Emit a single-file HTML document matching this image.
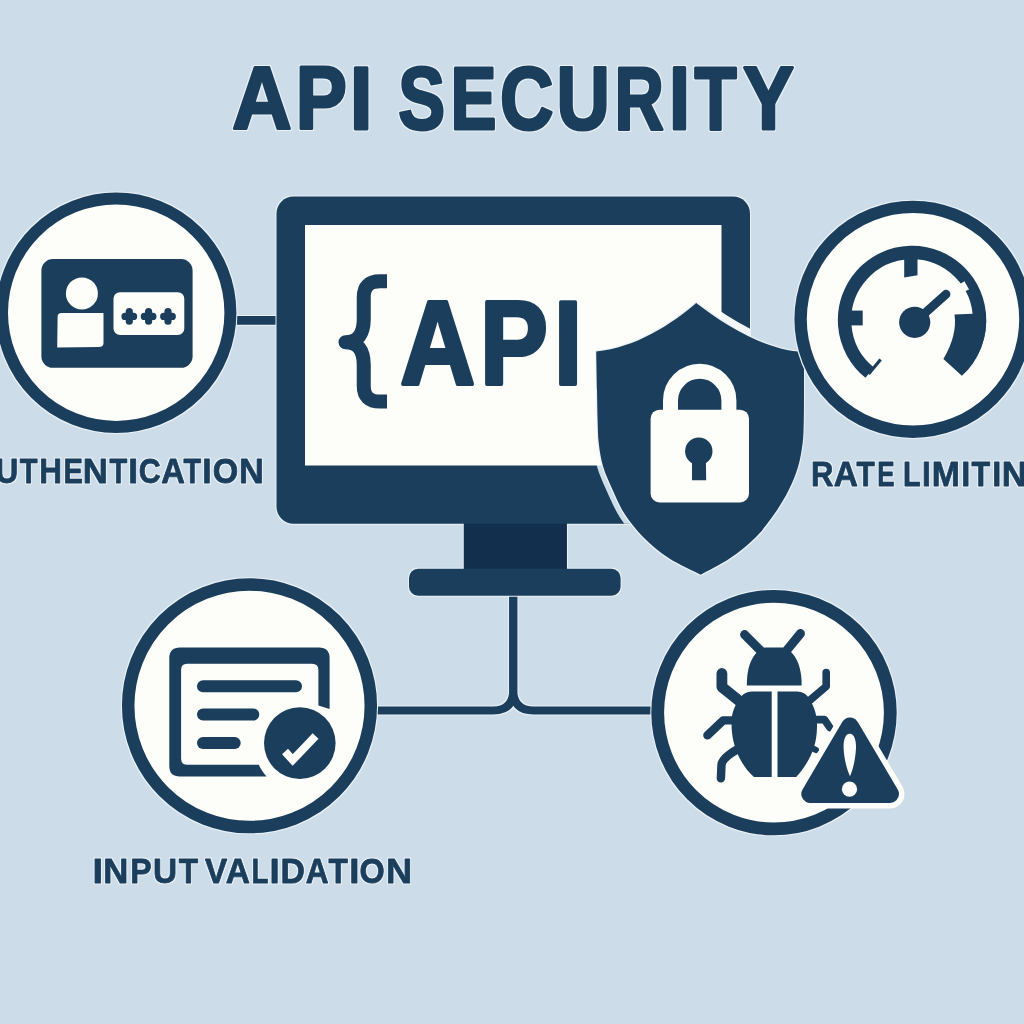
<!DOCTYPE html>
<html>
<head>
<meta charset="utf-8">
<title>API Security</title>
<style>
  html, body { margin: 0; padding: 0; background: #ccdce8; }
  body { width: 1024px; height: 1024px; overflow: hidden; font-family: "Liberation Sans", sans-serif; }
  svg { display: block; }
  text { font-family: "Liberation Sans", sans-serif; font-weight: bold; fill: #1a3e5c; }
</style>
</head>
<body>
<svg width="1024" height="1024" viewBox="0 0 1024 1024">
  <defs>
    <filter id="halo" x="-5%" y="-5%" width="110%" height="110%" color-interpolation-filters="sRGB"><feMorphology in="SourceAlpha" operator="dilate" radius="1.2" result="d"/><feGaussianBlur in="d" stdDeviation="0.45" result="b"/><feFlood flood-color="#eaf1f7"/><feComposite in2="b" operator="in" result="h"/><feMerge><feMergeNode in="h"/><feMergeNode in="SourceGraphic"/></feMerge></filter>
    <clipPath id="monClip"><rect x="276.5" y="196.5" width="473.5" height="327.25"/></clipPath></defs>
  <rect x="0" y="0" width="1024" height="1024" fill="#ccdce8"/>

  <!-- TITLE -->
  <g id="title" filter="url(#halo)">
    <text transform="translate(232.15,128.70) scale(0.9311,1)" font-size="88.37" stroke="#1a3e5c" stroke-width="3.0" stroke-linejoin="round">A</text>
    <text transform="translate(295.77,128.70) scale(0.8677,1)" font-size="88.37" stroke="#1a3e5c" stroke-width="3.0" stroke-linejoin="round">P</text>
    <text transform="translate(349.71,128.70) scale(0.9282,1)" font-size="88.37" stroke="#1a3e5c" stroke-width="3.0" stroke-linejoin="round">I</text>
    <text transform="translate(398.37,128.70) scale(0.7954,1)" font-size="88.37" stroke="#1a3e5c" stroke-width="3.0" stroke-linejoin="round">S</text>
    <text transform="translate(450.56,128.70) scale(0.7798,1)" font-size="88.37" stroke="#1a3e5c" stroke-width="3.0" stroke-linejoin="round">E</text>
    <text transform="translate(500.02,128.70) scale(0.8383,1)" font-size="88.37" stroke="#1a3e5c" stroke-width="3.0" stroke-linejoin="round">C</text>
    <text transform="translate(556.42,128.70) scale(0.8357,1)" font-size="88.37" stroke="#1a3e5c" stroke-width="3.0" stroke-linejoin="round">U</text>
    <text transform="translate(614.59,128.70) scale(0.7733,1)" font-size="88.37" stroke="#1a3e5c" stroke-width="3.0" stroke-linejoin="round">R</text>
    <text transform="translate(668.98,128.70) scale(0.8551,1)" font-size="88.37" stroke="#1a3e5c" stroke-width="3.0" stroke-linejoin="round">I</text>
    <text transform="translate(694.40,128.70) scale(0.7812,1)" font-size="88.37" stroke="#1a3e5c" stroke-width="3.0" stroke-linejoin="round">T</text>
    <text transform="translate(742.99,128.70) scale(0.8643,1)" font-size="88.37" stroke="#1a3e5c" stroke-width="3.0" stroke-linejoin="round">Y</text>
  </g>

  <!-- CONNECTORS -->
  <g fill="none" stroke="#1a3e5c" stroke-width="8" filter="url(#halo)">
    <path d="M 230 320.4 H 282" stroke-width="8.6"/>
    <path d="M 370 710.5 H 493 Q 513.25 710.5 513.25 690 V 590"/>
    <path d="M 660 710.5 H 533.5 Q 513.25 710.5 513.25 690 V 590"/>
  </g>

  <!-- MONITOR -->
  <g id="monitor" filter="url(#halo)">
    <rect x="463.75" y="520" width="103.2" height="50" fill="#12304d"/>
    <rect x="409" y="568.75" width="211.6" height="26.9" rx="9" fill="#1a3e5c"/>
    <rect x="276.5" y="196.5" width="473.5" height="327.25" rx="17" fill="#1a3e5c"/>
    <!-- shield halo over frame -->
    <path d="M 696.2 303 C 672 324 635 348 596.2 351.4 C 596.3 357.8 596.8 378.6 597.0 390.0 C 597.2 401.4 597.3 411.1 597.6 420.0 C 597.9 428.9 597.8 435.6 598.8 443.4 C 599.7 451.1 600.8 458.7 603.1 466.5 C 605.4 474.3 609.2 482.4 612.8 490.3 C 616.4 498.2 619.4 505.9 624.5 513.8 C 629.6 521.6 635.9 529.8 643.3 537.2 C 650.7 544.6 659.4 552.0 669.0 558.3 C 678.6 564.5 695.4 572.0 700.7 574.7 C 705.6 572.0 720.8 564.5 730.0 558.3 C 739.2 552.0 748.4 544.6 755.8 537.2 C 763.2 529.8 769.0 521.6 774.5 513.8 C 780.0 505.9 784.7 498.1 788.6 490.3 C 792.5 482.5 795.7 474.7 798.0 466.9 C 800.3 459.1 801.6 451.2 802.6 443.4 C 803.6 435.6 803.6 428.9 803.8 420.0 C 804.0 411.1 804.0 401.3 804.0 390.0 C 804.0 378.7 804.0 358.3 804.0 352.0 C 766 351 724 324.5 696.2 303 Z" fill="none" stroke="#cddde9" stroke-width="11.6" stroke-linejoin="round" clip-path="url(#monClip)"/>
    <path d="M 696.2 303 C 724 324.5 766 351 804 352" fill="none" stroke="#f3f6f6" stroke-width="15" stroke-linejoin="round" clip-path="url(#monClip)"/>
    <rect x="305" y="225" width="416.5" height="240.5" fill="#fdfdf9"/>
  </g>

  <!-- {API -->
  <g id="api">
    <text transform="translate(400.17,383.50) scale(0.8745,1)" font-size="118.46" stroke="#1a3e5c" stroke-width="4.0" stroke-linejoin="round">A</text>
    <text transform="translate(479.91,383.50) scale(0.8587,1)" font-size="118.46" stroke="#1a3e5c" stroke-width="4.0" stroke-linejoin="round">P</text>
    <text transform="translate(553.94,383.50) scale(0.8546,1)" font-size="118.46" stroke="#1a3e5c" stroke-width="4.0" stroke-linejoin="round">I</text>
  </g>
  <path d="M 387 281.2 H 380 Q 363.75 281.2 363.75 297 V 319 Q 363.75 342 345.5 342.2 Q 363.75 342 363.75 365 V 386 Q 363.75 401.6 380 401.6 H 387" fill="none" stroke="#1a3e5c" stroke-width="14" stroke-linejoin="round"/>

  <!-- SHIELD -->
  <path filter="url(#halo)" d="M 696.2 303 C 672 324 635 348 596.2 351.4 C 596.3 357.8 596.8 378.6 597.0 390.0 C 597.2 401.4 597.3 411.1 597.6 420.0 C 597.9 428.9 597.8 435.6 598.8 443.4 C 599.7 451.1 600.8 458.7 603.1 466.5 C 605.4 474.3 609.2 482.4 612.8 490.3 C 616.4 498.2 619.4 505.9 624.5 513.8 C 629.6 521.6 635.9 529.8 643.3 537.2 C 650.7 544.6 659.4 552.0 669.0 558.3 C 678.6 564.5 695.4 572.0 700.7 574.7 C 705.6 572.0 720.8 564.5 730.0 558.3 C 739.2 552.0 748.4 544.6 755.8 537.2 C 763.2 529.8 769.0 521.6 774.5 513.8 C 780.0 505.9 784.7 498.1 788.6 490.3 C 792.5 482.5 795.7 474.7 798.0 466.9 C 800.3 459.1 801.6 451.2 802.6 443.4 C 803.6 435.6 803.6 428.9 803.8 420.0 C 804.0 411.1 804.0 401.3 804.0 390.0 C 804.0 378.7 804.0 358.3 804.0 352.0 C 766 351 724 324.5 696.2 303 Z" fill="#1a3e5c"/>
  <!-- lock -->
  <g id="lock">
    <path d="M 670.5 415 V 400.5 A 29.2 29.2 0 0 1 728.9 400.5 V 415" fill="none" stroke="#fdfdf9" stroke-width="15"/>
    <rect x="650.6" y="409.7" width="98.4" height="92.8" rx="9" fill="#fdfdf9"/>
    <circle cx="698.8" cy="451.2" r="13.7" fill="#1a3e5c"/>
    <path d="M 692 455 L 692 480.2 H 706.2 L 705.8 455 Z" fill="#1a3e5c"/>
  </g>

  <!-- AUTH CIRCLE -->
  <circle cx="116.2" cy="312.7" r="114.2" fill="#fdfdf9" stroke="#1a3e5c" stroke-width="12" filter="url(#halo)"/>
  <g id="auth">
    <rect x="41.4" y="259.1" width="151.2" height="108.7" rx="11.5" fill="#1a3e5c"/>
    <circle cx="81.9" cy="293.4" r="16" fill="#fdfdf9"/>
    <path d="M 61.5 312.9 H 103.5 V 343 Q 103.5 347 99 347 L 57.2 347.4 L 57.6 317 Q 57.6 312.9 61.5 312.9 Z" fill="#fdfdf9"/>
    <rect x="113.5" y="292.2" width="70.8" height="42.7" rx="6.5" fill="#fdfdf9"/>
    <g stroke="#1a3e5c" stroke-width="7.2" stroke-linecap="round">
      <path d="M 125 316.4 H 133.6 M 129.3 311.7 V 321.2"/>
      <path d="M 144.3 316.4 H 152.9 M 148.6 311.7 V 321.2"/>
      <path d="M 163.7 316.4 H 172.3 M 168 311.7 V 321.2"/>
    </g>
  </g>

  <!-- RATE CIRCLE -->
  <circle cx="913" cy="319.3" r="112.4" fill="#fdfdf9" stroke="#1a3e5c" stroke-width="12.4" filter="url(#halo)"/>
  <g id="gauge">
    <!-- arc: centre 912,320 r=67.5 from 128.8deg to 48deg clockwise -->
    <path d="M 869.7 372.6 A 67.5 67.5 0 1 1 957.2 370.2" fill="none" stroke="#1a3e5c" stroke-width="13.4"/>
    <!-- end tick bottom-left -->
    <path d="M 868.6 374 L 880.6 359.6" fill="none" stroke="#1a3e5c" stroke-width="3.2"/>
    <!-- thick section right -->
    <path d="M 954.5 314.5 L 985.7 313.3 A 74 74 0 0 1 961.9 375.8 L 943.4 359 Q 957.5 335 954.5 314.5 Z" fill="#1a3e5c"/>
    <!-- ticks -->
    <path d="M 904.2 258 H 917.5 V 275.3 L 904.2 277.5 Z" fill="#1a3e5c"/>
    <rect x="848" y="310.6" width="14.7" height="14.8" fill="#1a3e5c"/>
    <path d="M 958.5 285 L 964.5 281.2 L 969 289.5 L 963.5 292 Z" fill="#fdfdf9"/>
    <!-- needle -->
    <path d="M 914.7 322.3 L 946 294.2" stroke="#1a3e5c" stroke-width="8.8" stroke-linecap="round"/>
    <circle cx="914.7" cy="322.3" r="15.6" fill="#1a3e5c"/>
  </g>

  <!-- INPUT CIRCLE -->
  <circle cx="249.5" cy="705.8" r="121.3" fill="#fdfdf9" stroke="#1a3e5c" stroke-width="12.5" filter="url(#halo)"/>
  <g id="form">
    <path d="M 180 647.4 H 319 Q 329.6 647.4 329.6 658 V 709 L 318.4 705.5 V 670 Q 318.4 663.8 312 663.8 H 187 Q 181.1 663.8 181.1 670 V 759 Q 181.1 764.7 187 764.7 H 258.8 Q 261 770 266.5 776.5 H 180 Q 169.3 776.5 169.3 766 V 658 Q 169.3 647.4 180 647.4 Z" fill="#1a3e5c"/>
    <g stroke="#1a3e5c" stroke-width="12" stroke-linecap="round">
      <path d="M 203 686.2 H 296"/>
      <path d="M 203 714.5 H 253.3"/>
      <path d="M 203 743 H 234.7"/>
    </g>
    <!-- check badge -->
        <circle cx="299.8" cy="743.1" r="35.8" fill="#1a3e5c"/>
    <path d="M 285 751.5 L 292.7 760 L 315.6 736" fill="none" stroke="#fdfdf9" stroke-width="8"/>
  </g>

  <!-- BUG CIRCLE -->
  <circle cx="774" cy="712.6" r="116.3" fill="#fdfdf9" stroke="#1a3e5c" stroke-width="12.8" filter="url(#halo)"/>
  <g id="bug">
    <!-- antennae -->
    <g fill="none" stroke="#1a3e5c" stroke-linecap="round" stroke-linejoin="round">
      <path d="M 744.6 634.6 L 761 651" stroke-width="9"/>
      <path d="M 800.4 633.6 L 787 650" stroke-width="9"/>
      <!-- left legs -->
      <path d="M 721.9 673.5 V 687 L 740 701.5" stroke-width="10.8"/>
      <path d="M 735 720.4 H 723.2 L 707.4 735.4" stroke-width="8.4"/>
      <path d="M 738 749 Q 722 758 721.5 765 L 720.9 778.3" stroke-width="8.4"/>
      <!-- right legs -->
      <path d="M 809 701 L 826.2 686.4 V 672.5" stroke-width="7.6"/>
      <path d="M 814 719.6 H 824.5 L 829.8 727.5" stroke-width="7.6"/>
      <path d="M 812 748 L 816 750" stroke-width="6"/>
    </g>
    <!-- head -->
    <path d="M 746.9 685.6 C 746.5 668 752 651 765 647.6 H 783 C 796 651 802 668 801.6 685.6 Z" fill="#1a3e5c"/>
    <!-- body -->
    <path d="M 771.7 691.4 H 752 Q 744 691.6 740 698 C 733 708 731.3 716 731.5 723 C 731.5 736 734 746 739 757 C 743 765 748 772 754 776.9 H 771.7 Z" fill="#1a3e5c"/>
    <path d="M 777.5 691.4 H 797 Q 805 691.6 809 698 C 815 708 817.2 716 817 726 C 817 737 815 747 810 757 C 806 765 801 772 796.2 776.9 H 777.5 Z" fill="#1a3e5c"/>
    <!-- warning triangle -->
    <path d="M 850 726.5 L 810.3 794 H 890 Z" fill="#fdfdf9" stroke="#fdfdf9" stroke-width="29" stroke-linejoin="round"/>
    <path d="M 850 726.5 L 810.3 794 H 890 Z" fill="#1a3e5c" stroke="#1a3e5c" stroke-width="18" stroke-linejoin="round"/>
    <path d="M 849.8 733.7 C 854.5 733.7 856.3 741 856 748 C 855.5 760 852.5 771 850 776.3 C 847.5 771 844 760 843.6 748 C 843.3 741 845 733.7 849.8 733.7 Z" fill="#fdfdf9"/>
    <circle cx="849.5" cy="789.2" r="7.6" fill="#fdfdf9"/>
  </g>

  <!-- LABELS -->
  <g id="labels" filter="url(#halo)">
    <text transform="translate(-4.54,483.30) scale(0.9014,1)" font-size="35.03" stroke="#1a3e5c" stroke-width="0.8" stroke-linejoin="round">U</text>
    <text transform="translate(19.81,483.30) scale(0.8307,1)" font-size="35.03" stroke="#1a3e5c" stroke-width="0.8" stroke-linejoin="round">T</text>
    <text transform="translate(39.26,483.30) scale(0.8975,1)" font-size="35.03" stroke="#1a3e5c" stroke-width="0.8" stroke-linejoin="round">H</text>
    <text transform="translate(63.38,483.30) scale(0.8312,1)" font-size="35.03" stroke="#1a3e5c" stroke-width="0.8" stroke-linejoin="round">E</text>
    <text transform="translate(82.87,483.30) scale(0.9909,1)" font-size="35.03" stroke="#1a3e5c" stroke-width="0.8" stroke-linejoin="round">N</text>
    <text transform="translate(109.41,483.30) scale(0.8307,1)" font-size="35.03" stroke="#1a3e5c" stroke-width="0.8" stroke-linejoin="round">T</text>
    <text transform="translate(128.14,483.30) scale(1.0093,1)" font-size="35.03" stroke="#1a3e5c" stroke-width="0.8" stroke-linejoin="round">I</text>
    <text transform="translate(138.70,483.30) scale(0.8691,1)" font-size="35.03" stroke="#1a3e5c" stroke-width="0.8" stroke-linejoin="round">C</text>
    <text transform="translate(161.16,483.30) scale(0.9341,1)" font-size="35.03" stroke="#1a3e5c" stroke-width="0.8" stroke-linejoin="round">A</text>
    <text transform="translate(183.61,483.30) scale(0.8214,1)" font-size="35.03" stroke="#1a3e5c" stroke-width="0.8" stroke-linejoin="round">T</text>
    <text transform="translate(202.24,483.30) scale(0.9580,1)" font-size="35.03" stroke="#1a3e5c" stroke-width="0.8" stroke-linejoin="round">I</text>
    <text transform="translate(212.63,483.30) scale(0.9348,1)" font-size="35.03" stroke="#1a3e5c" stroke-width="0.8" stroke-linejoin="round">O</text>
    <text transform="translate(239.09,483.30) scale(0.9816,1)" font-size="35.03" stroke="#1a3e5c" stroke-width="0.8" stroke-linejoin="round">N</text>
    <text transform="translate(810.88,486.00) scale(0.8856,1)" font-size="35.03" stroke="#1a3e5c" stroke-width="0.8" stroke-linejoin="round">R</text>
    <text transform="translate(833.65,486.00) scale(0.9547,1)" font-size="35.03" stroke="#1a3e5c" stroke-width="0.8" stroke-linejoin="round">A</text>
    <text transform="translate(856.61,486.00) scale(0.8540,1)" font-size="35.03" stroke="#1a3e5c" stroke-width="0.8" stroke-linejoin="round">T</text>
    <text transform="translate(877.16,486.00) scale(0.7432,1)" font-size="35.03" stroke="#1a3e5c" stroke-width="0.8" stroke-linejoin="round">E</text>
    <text transform="translate(902.90,486.00) scale(0.8255,1)" font-size="35.03" stroke="#1a3e5c" stroke-width="0.8" stroke-linejoin="round">L</text>
    <text transform="translate(921.94,486.00) scale(0.9066,1)" font-size="35.03" stroke="#1a3e5c" stroke-width="0.8" stroke-linejoin="round">I</text>
    <text transform="translate(931.73,486.00) scale(0.9647,1)" font-size="35.03" stroke="#1a3e5c" stroke-width="0.8" stroke-linejoin="round">M</text>
    <text transform="translate(961.20,486.00) scale(0.9237,1)" font-size="35.03" stroke="#1a3e5c" stroke-width="0.8" stroke-linejoin="round">I</text>
    <text transform="translate(971.61,486.00) scale(0.8727,1)" font-size="35.03" stroke="#1a3e5c" stroke-width="0.8" stroke-linejoin="round">T</text>
    <text transform="translate(992.30,486.00) scale(0.9237,1)" font-size="35.03" stroke="#1a3e5c" stroke-width="0.8" stroke-linejoin="round">I</text>
    <text transform="translate(1001.87,486.00) scale(0.9909,1)" font-size="35.03" stroke="#1a3e5c" stroke-width="0.8" stroke-linejoin="round">N</text>
    <text transform="translate(92.39,882.50) scale(1.0587,1)" font-size="35.76" stroke="#1a3e5c" stroke-width="0.8" stroke-linejoin="round">I</text>
    <text transform="translate(103.36,882.50) scale(0.9715,1)" font-size="35.76" stroke="#1a3e5c" stroke-width="0.8" stroke-linejoin="round">N</text>
    <text transform="translate(130.21,882.50) scale(0.8985,1)" font-size="35.76" stroke="#1a3e5c" stroke-width="0.8" stroke-linejoin="round">P</text>
    <text transform="translate(153.07,882.50) scale(0.9331,1)" font-size="35.76" stroke="#1a3e5c" stroke-width="0.8" stroke-linejoin="round">U</text>
    <text transform="translate(178.80,882.50) scale(0.8876,1)" font-size="35.76" stroke="#1a3e5c" stroke-width="0.8" stroke-linejoin="round">T</text>
    <text transform="translate(205.04,882.50) scale(0.9313,1)" font-size="35.76" stroke="#1a3e5c" stroke-width="0.8" stroke-linejoin="round">V</text>
    <text transform="translate(225.64,882.50) scale(0.9359,1)" font-size="35.76" stroke="#1a3e5c" stroke-width="0.8" stroke-linejoin="round">A</text>
    <text transform="translate(251.45,882.50) scale(0.7781,1)" font-size="35.76" stroke="#1a3e5c" stroke-width="0.8" stroke-linejoin="round">L</text>
    <text transform="translate(269.56,882.50) scale(1.0251,1)" font-size="35.76" stroke="#1a3e5c" stroke-width="0.8" stroke-linejoin="round">I</text>
    <text transform="translate(280.52,882.50) scale(0.9459,1)" font-size="35.76" stroke="#1a3e5c" stroke-width="0.8" stroke-linejoin="round">D</text>
    <text transform="translate(305.67,882.50) scale(0.8835,1)" font-size="35.76" stroke="#1a3e5c" stroke-width="0.8" stroke-linejoin="round">A</text>
    <text transform="translate(328.50,882.50) scale(0.8876,1)" font-size="35.76" stroke="#1a3e5c" stroke-width="0.8" stroke-linejoin="round">T</text>
    <text transform="translate(349.26,882.50) scale(1.0251,1)" font-size="35.76" stroke="#1a3e5c" stroke-width="0.8" stroke-linejoin="round">I</text>
    <text transform="translate(359.44,882.50) scale(0.9047,1)" font-size="35.76" stroke="#1a3e5c" stroke-width="0.8" stroke-linejoin="round">O</text>
    <text transform="translate(386.08,882.50) scale(1.0128,1)" font-size="35.76" stroke="#1a3e5c" stroke-width="0.8" stroke-linejoin="round">N</text>
  </g>
</svg>
</body>
</html>
